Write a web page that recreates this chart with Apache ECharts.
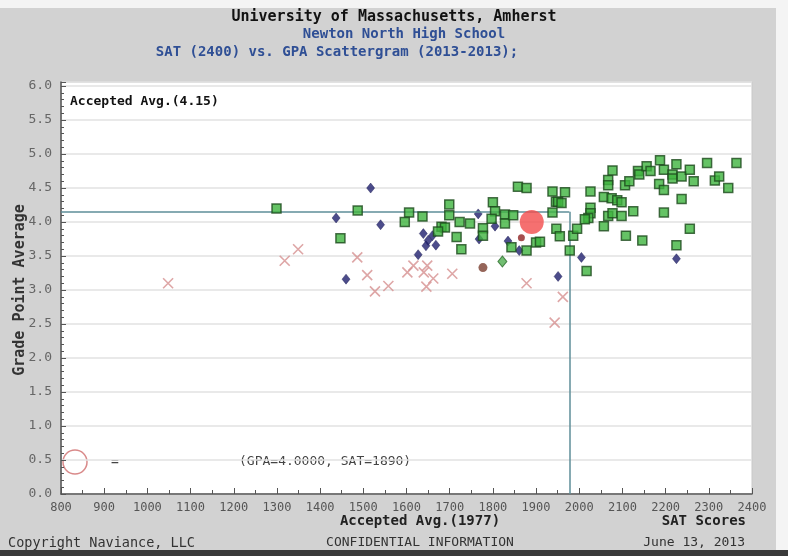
<!DOCTYPE html>
<html><head><meta charset="utf-8">
<script src="https://cdn.jsdelivr.net/npm/echarts@6/dist/echarts.min.js"></script>
<style>html,body{margin:0;padding:0;background:#fff}#c{width:788px;height:556px}</style>
</head><body><div id="c"></div>
<script>
const xTicks = [800,900,1000,1100,1200,1300,1400,1500,1600,1700,1800,1900,2000,2100,2200,2300,2400];
const yTicks = [0,0.5,1,1.5,2,2.5,3,3.5,4,4.5,5,5.5,6];
const acceptedAvgGPA = 4.15;
const acceptedAvgSAT = 1977;
const student = [[1890, 4.0]];
const accepted = [[1299,4.2],[1447,3.76],[1487,4.17],[1606,4.14],[1596,4.0],[1637,4.08],[1699,4.26],[1699,4.1],[1723,4.0],[1747,3.98],[1681,3.93],[1689,3.92],[1673,3.86],[1716,3.78],[1727,3.6],[1777,3.91],[1777,3.8],[1800,4.29],[1805,4.16],[1797,4.05],[1828,4.11],[1828,3.98],[1847,4.1],[1858,4.52],[1878,4.5],[1938,4.45],[1946,4.3],[1938,4.14],[1843,3.63],[1878,3.58],[1900,3.7],[1909,3.71],[1967,4.44],[1951,4.3],[1959,4.28],[1947,3.9],[1955,3.79],[1986,3.8],[1995,3.9],[1978,3.58],[2017,3.28],[2026,4.45],[2026,4.21],[2026,4.13],[2021,4.06],[2013,4.04],[2067,4.62],[2067,4.54],[2077,4.76],[2057,4.37],[2075,4.35],[2088,4.32],[2098,4.29],[2067,4.09],[2077,4.13],[2098,4.09],[2057,3.94],[2125,4.16],[2108,3.8],[2146,3.73],[2106,4.54],[2116,4.6],[2136,4.75],[2139,4.7],[2156,4.82],[2165,4.75],[2187,4.91],[2196,4.77],[2185,4.56],[2196,4.47],[2196,4.14],[2225,4.85],[2216,4.7],[2216,4.64],[2237,4.67],[2256,4.77],[2265,4.6],[2237,4.34],[2256,3.9],[2225,3.66],[2296,4.87],[2314,4.61],[2324,4.67],[2345,4.5],[2364,4.87]];
const denied = [[1048,3.1],[1318,3.43],[1349,3.6],[1486,3.48],[1509,3.22],[1527,2.98],[1558,3.06],[1602,3.26],[1616,3.36],[1640,3.26],[1648,3.36],[1662,3.17],[1646,3.05],[1706,3.24],[1878,3.1],[1943,2.52],[1962,2.9]];
const waitlisted = [[1437,4.06],[1517,4.5],[1540,3.96],[1766,4.12],[1639,3.83],[1650,3.73],[1668,3.66],[1627,3.52],[1768,3.75],[1805,3.94],[1835,3.72],[1861,3.58],[1460,3.16],[1951,3.2],[2005,3.48],[2225,3.46],[1660,3.8],[1645,3.65]];
const otherBrown = [[1777,3.33]];
const otherRed = [[1866,3.77]];
const otherGreen = [[1822,3.42]];

const mono = 'DejaVu Sans Mono';
const chart = echarts.init(document.getElementById('c'));
chart.setOption({
  backgroundColor: '#d2d2d2',
  animation: false,
  grid: {left: 61, right: 36, top: 82, bottom: 62, show: true, backgroundColor: '#fff', borderColor: '#c8c8c8', borderWidth: 1},
  xAxis: {
    type: 'value', min: xTicks[0], max: xTicks[xTicks.length-1], interval: 100,
    axisLine: {lineStyle: {color: '#555', width: 1.5}},
    axisTick: {inside: true, length: 6, lineStyle: {color: '#555'}},
    minorTick: {show: true, splitNumber: 2, length: 4, lineStyle: {color: '#555'}},
    splitLine: {show: false},
    axisLabel: {color: '#555', fontFamily: mono, fontSize: 12, margin: 8, formatter: v => String(v)}
  },
  yAxis: {
    type: 'value', min: 0, max: 6.06, interval: 0.5,
    axisLine: {show: true, lineStyle: {color: '#555', width: 1.5}},
    axisTick: {show: true, inside: true, length: 5, lineStyle: {color: '#555'}},
    minorTick: {show: true, splitNumber: 5, length: 3, lineStyle: {color: '#555'}},
    splitLine: {show: true, lineStyle: {color: '#e2e2e2', width: 1.5}},
    axisLabel: {color: '#666', fontFamily: mono, fontSize: 13, margin: 9, showMaxLabel: false,
      formatter: v => yTicks.includes(Math.round(v*10)/10) ? v.toFixed(1) : ''}
  },
  series: [
    {type: 'scatter', name: 'denied', data: denied, symbol: 'path://M0,0L10,10M10,0L0,10', symbolSize: 10,
      itemStyle: {color: 'rgba(0,0,0,0)', borderColor: '#d69090', borderWidth: 1.6}, z: 3,
      markLine: {silent: true, symbol: 'none', label: {show: false},
        lineStyle: {color: '#5e8e98', width: 1.5, type: 'solid'},
        data: [
          [{coord: [xTicks[0], acceptedAvgGPA]}, {coord: [acceptedAvgSAT, acceptedAvgGPA]}],
          [{coord: [acceptedAvgSAT, acceptedAvgGPA]}, {coord: [acceptedAvgSAT, 0]}]
        ]}},
    {type: 'scatter', name: 'waitlisted', data: waitlisted, symbol: 'diamond', symbolSize: [8, 10],
      itemStyle: {color: '#1f1f6e', borderColor: '#14144a', borderWidth: 0.5}, z: 4},
    {type: 'scatter', name: 'accepted', data: accepted, symbol: 'rect', symbolSize: 9,
      itemStyle: {color: '#3fb43f', borderColor: '#1d4a1d', borderWidth: 1.5}, z: 5},
    {type: 'scatter', name: 'brown', data: otherBrown, symbol: 'circle', symbolSize: 9,
      itemStyle: {color: '#7a3e30'}, z: 5},
    {type: 'scatter', name: 'red', data: otherRed, symbol: 'circle', symbolSize: 7,
      itemStyle: {color: '#8e2323'}, z: 5},
    {type: 'scatter', name: 'greendiamond', data: otherGreen, symbol: 'diamond', symbolSize: [9, 11],
      itemStyle: {color: '#4fae4f', borderColor: '#2e6e2e', borderWidth: 1}, z: 5},
    {type: 'scatter', name: 'student', data: student, symbol: 'circle', symbolSize: 24,
      itemStyle: {color: '#f24c4c'}, z: 6}
  ],
  graphic: [
    {type: 'rect', left: 0, top: 0, shape: {width: 788, height: 8}, style: {fill: '#f4f4f4'}, z: -1},
    {type: 'rect', left: 776, top: 0, shape: {width: 12, height: 556}, style: {fill: '#f4f4f4'}, z: -1},
    {type: 'rect', left: 0, top: 550, shape: {width: 788, height: 6}, style: {fill: '#3a3a3a'}, z: -1},
    {type: 'text', left: 'center', top: 10, style: {text: 'University of Massachusetts, Amherst', font: 'bold 15px "DejaVu Sans Mono"', fill: '#111'}},
    {type: 'text', x: 404, y: 27, style: {text: 'Newton North High School', font: 'bold 14px "DejaVu Sans Mono"', fill: '#2f4f95', textAlign: 'center'}},
    {type: 'text', x: 337, y: 45, style: {text: 'SAT (2400) vs. GPA Scattergram (2013-2013);', font: 'bold 14px "DejaVu Sans Mono"', fill: '#2f4f95', textAlign: 'center'}},
    {type: 'text', x: 70, y: 95, style: {text: 'Accepted Avg.(4.15)', font: 'bold 13px "DejaVu Sans Mono"', fill: '#111'}},
    {type: 'text', x: 20, y: 290, rotation: Math.PI/2, style: {text: 'Grade Point Average', font: 'bold 15px "DejaVu Sans Mono"', fill: '#333', textAlign: 'center', textVerticalAlign: 'middle'}},
    {type: 'circle', shape: {cx: 75, cy: 462, r: 12}, style: {fill: 'rgba(0,0,0,0)', stroke: '#d98a8a', lineWidth: 1.5}},
    {type: 'text', x: 111, y: 455, style: {text: '=', font: '13px "DejaVu Sans Mono"', fill: '#444'}},
    {type: 'text', x: 239, y: 455, style: {text: '(GPA=4.0000, SAT=1890)', font: '13px "DejaVu Sans Mono"', fill: '#444'}},
    {type: 'text', x: 420, y: 514, style: {text: 'Accepted Avg.(1977)', font: 'bold 14px "DejaVu Sans Mono"', fill: '#222', textAlign: 'center'}},
    {type: 'text', x: 746, y: 514, style: {text: 'SAT Scores', font: 'bold 14px "DejaVu Sans Mono"', fill: '#222', textAlign: 'right'}},
    {type: 'text', x: 8, y: 536, style: {text: 'Copyright Naviance, LLC', font: '13.5px "DejaVu Sans Mono"', fill: '#333'}},
    {type: 'text', x: 420, y: 536, style: {text: 'CONFIDENTIAL INFORMATION', font: '13px "DejaVu Sans Mono"', fill: '#333', textAlign: 'center'}},
    {type: 'text', x: 745, y: 536, style: {text: 'June 13, 2013', font: '13px "DejaVu Sans Mono"', fill: '#333', textAlign: 'right'}}
  ]
});
</script></body></html>
